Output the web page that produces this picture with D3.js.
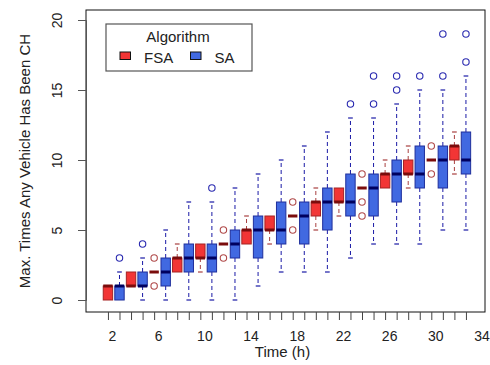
<!DOCTYPE html>
<html>
<head>
<meta charset="utf-8">
<script src="https://cdn.jsdelivr.net/npm/d3@7"></script>
<style>
  body { margin: 0; background: #fff; }
  text { font-family: "Liberation Sans", Arial, sans-serif; fill: #222; }
</style>
</head>
<body>
<div id="chart"></div>
<script>

var times = [2,4,6,8,10,12,14,16,18,20,22,24,26,28,30,32],
    xLabels = [2,6,10,14,18,22,26,30,34],
    yTicks = [0,5,10,15,20];

// FSA boxes
var fsaMin = [0,1,2,2,2,4,4,4,6,5,6,8,8,8,10,9],
    fsaQ1  = [0,1,2,2,3,4,4,5,6,6,7,8,8,9,10,10],
    fsaMed = [1,1,2,3,3,4,5,5,6,7,7,8,9,9,10,11],
    fsaQ3  = [1,2,2,3,4,4,5,6,6,7,8,8,9,10,10,11],
    fsaMax = [1,2,2,4,4,4,6,6,6,8,8,8,10,11,10,12],
    fsaOut = [[],[],[1,3],[],[],[3,5],[],[],[5,7],[],[],[6,7,9],[],[],[9,11],[]];

// SA boxes
var saMin = [0,0,0,0,0,0,1,2,2,2,3,4,4,4,5,5],
    saQ1  = [0,1,1,2,2,3,3,4,4,5,6,6,7,8,8,9],
    saMed = [1,1,2,3,3,4,5,5,6,7,7,8,9,9,10,10],
    saQ3  = [1,2,3,4,4,5,6,7,7,8,9,9,10,11,11,12],
    saMax = [2,3,5,7,7,8,9,10,11,12,13,13,14,15,15,16],
    saOut = [[3],[4],[],[],[8],[],[],[],[],[],[14],[14,16],[15,16],[16],[16,19],[17,19]];

var series = [
  {name: "FSA", shift: -0.35, min: fsaMin, q1: fsaQ1, med: fsaMed, q3: fsaQ3, max: fsaMax, out: fsaOut,
   fill: "#f23535", border: "#a52323", median: "#7a0c0c", whisk: "#a84040", pt: "#b04a4a"},
  {name: "SA", shift: 0.65, min: saMin, q1: saQ1, med: saMed, q3: saQ3, max: saMax, out: saOut,
   fill: "#4169e1", border: "#1f2f9c", median: "#00005e", whisk: "#1a1aa6", pt: "#2a2ab0"}
];

var width = 490, height = 365,
    plot = {left: 86, right: 485, top: 10, bottom: 312},
    boxW = 9.4;

var svg = d3.select("#chart").append("svg")
    .attr("width", width)
    .attr("height", height);

var x = d3.scaleLinear()
    .domain([-0.25, 34.3])
    .range([plot.left, plot.right]);

var y = d3.scaleLinear()
    .domain([0, 20])
    .range([300, 20]);

// box data
var boxes = [];
series.forEach(function(s) {
    times.forEach(function(t, i) {
        boxes.push({s: s, pos: t + s.shift, min: s.min[i], q1: s.q1[i], med: s.med[i],
                    q3: s.q3[i], max: s.max[i], out: s.out[i]});
    });
});

var g = svg.append("g");

// whiskers
g.selectAll(".whisk")
    .data(boxes.filter(function(d) { return d.max > d.q3; }))
    .enter().append("line")
    .attr("x1", function(d) { return x(d.pos) }).attr("x2", function(d) { return x(d.pos) })
    .attr("y1", function(d) { return y(d.q3) }).attr("y2", function(d) { return y(d.max) })
    .attr("stroke", function(d) { return d.s.whisk })
    .attr("stroke-dasharray", "4,3");
g.selectAll(".whisk2")
    .data(boxes.filter(function(d) { return d.min < d.q1; }))
    .enter().append("line")
    .attr("x1", function(d) { return x(d.pos) }).attr("x2", function(d) { return x(d.pos) })
    .attr("y1", function(d) { return y(d.q1) }).attr("y2", function(d) { return y(d.min) })
    .attr("stroke", function(d) { return d.s.whisk })
    .attr("stroke-dasharray", "4,3");

// staples
var staples = [];
boxes.forEach(function(d) {
    if (d.max > d.q3) staples.push({d: d, v: d.max});
    if (d.min < d.q1) staples.push({d: d, v: d.min});
});
g.selectAll(".staple")
    .data(staples)
    .enter().append("line")
    .attr("x1", function(e) { return x(e.d.pos) - boxW / 4 })
    .attr("x2", function(e) { return x(e.d.pos) + boxW / 4 })
    .attr("y1", function(e) { return y(e.v) }).attr("y2", function(e) { return y(e.v) })
    .attr("stroke", function(e) { return e.d.s.whisk })
    .attr("stroke-width", 1.2);

// boxes
g.selectAll(".box")
    .data(boxes.filter(function(d) { return d.q3 > d.q1; }))
    .enter().append("rect")
    .attr("x", function(d) { return x(d.pos) - boxW / 2 })
    .attr("y", function(d) { return y(d.q3) })
    .attr("width", boxW)
    .attr("height", function(d) { return y(d.q1) - y(d.q3) })
    .attr("fill", function(d) { return d.s.fill })
    .attr("stroke", function(d) { return d.s.border })
    .attr("stroke-width", 1);

// medians
g.selectAll(".med")
    .data(boxes)
    .enter().append("line")
    .attr("x1", function(d) { return x(d.pos) - boxW / 2 })
    .attr("x2", function(d) { return x(d.pos) + boxW / 2 })
    .attr("y1", function(d) { return y(d.med) }).attr("y2", function(d) { return y(d.med) })
    .attr("stroke", function(d) { return d.s.median })
    .attr("stroke-width", 3);

// outliers
var outs = [];
boxes.forEach(function(d) {
    d.out.forEach(function(v) { outs.push({d: d, v: v}); });
});
g.selectAll(".out")
    .data(outs)
    .enter().append("circle")
    .attr("cx", function(e) { return x(e.d.pos) })
    .attr("cy", function(e) { return y(e.v) })
    .attr("r", 3.2)
    .attr("fill", "none")
    .attr("stroke", function(e) { return e.d.s.pt })
    .attr("stroke-width", 1.1);

// frame
svg.append("rect")
    .attr("x", plot.left).attr("y", plot.top)
    .attr("width", plot.right - plot.left)
    .attr("height", plot.bottom - plot.top)
    .attr("fill", "none")
    .attr("stroke", "#111")
    .attr("stroke-width", 1);

// y axis
var yAxis = svg.append("g")
    .attr("transform", "translate(" + plot.left + ",0)")
    .call(d3.axisLeft(y).tickValues(yTicks).tickSize(8).tickPadding(0).tickFormat(d3.format("d")));
yAxis.select(".domain").attr("stroke", "#555");
yAxis.selectAll(".tick line").attr("stroke", "#555");
yAxis.selectAll(".tick text")
    .attr("font-size", 14)
    .attr("text-anchor", "middle")
    .attr("x", 0).attr("dy", 0)
    .attr("transform", "translate(-29,0) rotate(-90)")
    .attr("dominant-baseline", "central")
    .attr("font-family", "Liberation Sans, Arial, sans-serif")
    .attr("fill", "#222");

// x ticks at box positions
var boxPos = [];
times.forEach(function(t) { boxPos.push(t - 0.35, t + 0.65); });
var xAxis = svg.append("g")
    .attr("transform", "translate(0," + plot.bottom + ")")
    .call(d3.axisBottom(x).tickValues(boxPos).tickSize(8).tickFormat(""));
xAxis.select(".domain").remove();
xAxis.selectAll(".tick line").attr("stroke", "#444");

// x labels without ticks
var xLab = svg.append("g")
    .attr("transform", "translate(0," + plot.bottom + ")")
    .call(d3.axisBottom(x).tickValues(xLabels).tickSize(0).tickPadding(19));
xLab.select(".domain").remove();
xLab.selectAll(".tick text")
    .attr("font-size", 14)
    .attr("font-family", "Liberation Sans, Arial, sans-serif")
    .attr("fill", "#222");

// axis titles
svg.append("text")
    .attr("x", (plot.left + plot.right) / 2 - 3)
    .attr("y", 357)
    .attr("text-anchor", "middle")
    .attr("font-size", 15)
    .text("Time (h)");

svg.append("text")
    .attr("transform", "translate(30," + ((plot.top + plot.bottom) / 2) + ") rotate(-90)")
    .attr("text-anchor", "middle")
    .attr("font-size", 15)
    .text("Max. Times Any Vehicle Has Been CH");

// legend
var leg = svg.append("g");
leg.append("rect")
    .attr("x", 106).attr("y", 24)
    .attr("width", 146).attr("height", 47)
    .attr("fill", "#fff")
    .attr("stroke", "#555")
    .attr("stroke-width", 1.2);
leg.append("text")
    .attr("x", 178).attr("y", 42)
    .attr("text-anchor", "middle")
    .attr("font-size", 15)
    .text("Algorithm");
var items = leg.selectAll(".item")
    .data(series)
    .enter().append("g")
    .attr("transform", function(d, i) { return "translate(" + (120 + i * 70.5) + ",0)" });
items.append("rect")
    .attr("x", 0).attr("y", 52)
    .attr("width", 10.5).attr("height", 7.5)
    .attr("fill", function(d) { return d.fill })
    .attr("stroke", "#111")
    .attr("stroke-width", 1);
items.append("text")
    .attr("x", function(d, i) { return i == 0 ? 24 : 24 })
    .attr("y", 63)
    .attr("font-size", 15)
    .text(function(d) { return d.name });

</script>
</body>
</html>
